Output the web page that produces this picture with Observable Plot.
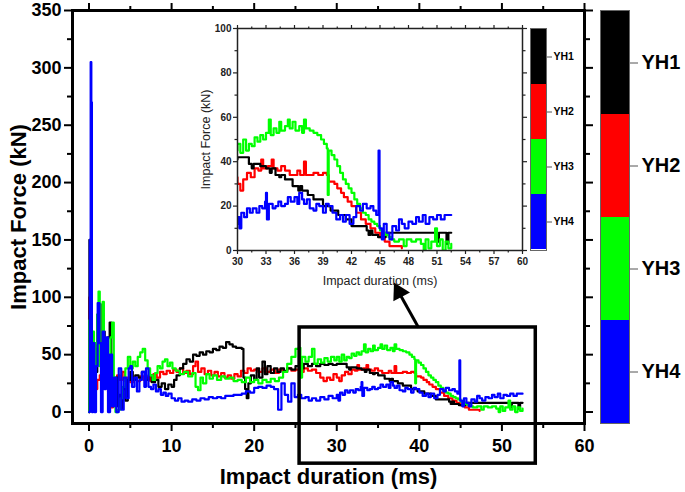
<!DOCTYPE html>
<html>
<head>
<meta charset="utf-8">
<script src="https://cdn.jsdelivr.net/npm/d3@7"></script>
<script src="https://cdn.jsdelivr.net/npm/@observablehq/plot@0.6"></script>
<style>
  body { margin: 0; background: #fff; }
  #chart { position: relative; width: 685px; height: 492px; }
  #chart svg { position: absolute; }
</style>
</head>
<body>
<div id="chart"></div>
<script>
const FONT = '"Liberation Sans", Arial, sans-serif';

const series = ["YH1", "YH2", "YH3", "YH4"];
const colors = ["#000000", "#ff0000", "#00ff00", "#0000ff"];

// [time (ms), force (kN)]
const yh1 = [[0,0],[0.05,150],[0.15,120],[0.25,60],[0.4,20],[0.6,55],[0.8,35],[1,85],[1.2,94],[1.4,60],[1.5,45],[1.7,70],[1.9,50],[2.1,30],[2.3,65],[2.5,78],[2.7,45],[2.9,25],[3.1,10],[3.3,30],[3.5,5],[3.7,15],[3.9,3],[4.1,20],[4.4,10],[4.7,28],[5,35],[5.3,28],[5.6,32],[6,30],[6.4,35],[6.8,28],[7.2,32],[7.6,26],[8,28],[8.4,22],[8.8,25],[9.2,20],[9.6,24],[10,22],[10.3,28],[10.6,32],[11,38],[11.4,42],[11.8,46],[12.2,44],[12.6,50],[13,49],[13.4,52],[13.8,50],[14.2,53],[14.6,52],[15,55],[15.4,54],[15.8,57],[16.2,56],[16.6,61],[17,59],[17.4,57],[17.8,56],[18.2,56],[18.5,55],[18.7,30],[18.9,20],[19.1,12],[19.3,25],[19.6,32],[20,28],[20.3,38],[20.6,30],[21,44],[21.3,33],[21.6,40],[22,34],[22.4,38],[22.8,35],[23.2,38],[23.6,36],[24,38],[24.5,37],[25,40],[25.5,38],[26,42],[26.5,40],[27,42],[27.5,40],[28,42],[28.5,41],[29,42],[29.5,41],[30,42],[31.2,39],[31.5,37],[31.7,39],[32.4,38],[33,37],[33.4,35],[33.6,37],[34,34],[34.4,33],[34.6,34],[35,32],[35.8,29],[36.4,27],[36.6,29],[36.8,27],[37.4,25],[38,23],[39,20],[39.8,18],[40.6,16],[41.4,14],[42,11],[43.6,9],[43.8,7],[44,9],[44.2,7],[44.8,6],[45.6,8],[50.8,8],[51,4],[51.2,8],[51.8,8],[52,3],[52.2,8],[52.5,8]];

const yh2 = [[0,0],[0.05,100],[0.15,60],[0.3,25],[0.5,40],[0.7,20],[1,28],[1.3,32],[1.6,26],[2,30],[2.3,18],[2.5,8],[2.7,4],[2.9,6],[3.1,25],[3.4,32],[3.7,28],[4,35],[4.3,27],[4.6,30],[5,26],[5.4,30],[5.8,27],[6.2,31],[6.6,28],[7,30],[7.4,27],[7.8,33],[8.2,30],[8.6,35],[9,33],[9.4,36],[9.8,34],[10.2,37],[10.6,35],[11,38],[11.4,34],[11.8,36],[12.2,33],[12.6,40],[12.9,44],[13.2,35],[13.6,38],[14,33],[14.4,36],[14.8,32],[15.2,35],[15.6,31],[16,34],[16.4,30],[16.8,32],[17.2,29],[17.6,33],[18,31],[18.4,36],[18.8,34],[19.2,38],[19.6,36],[20,37],[20.5,35],[21,38],[21.5,35],[22,37],[22.5,34],[23,37],[23.5,35],[24,38],[24.5,36],[25,37],[25.5,35],[26,38],[26.5,36],[27,37],[27.5,34],[28,30],[28.4,27],[28.8,30],[29.2,28],[29.6,33],[30,30],[30.3,27],[30.6,32],[31,35],[31.4,33],[31.8,37],[32.2,36],[32.5,41],[32.7,37],[33.2,38],[33.6,41],[33.8,37],[34.2,36],[34.6,38],[35,36],[35.5,34],[36.3,36],[36.6,34],[37,40],[37.2,34],[38,35],[38.5,34],[39,35],[39.4,34],[39.6,31],[40.2,30],[40.5,28],[40.9,26],[41.2,24],[41.6,22],[42,20],[42.5,17],[43,14],[43.5,12],[44,10],[44.5,8],[45,6],[45.5,4],[46,2],[47.3,1]];

const yh3 = [[0,0],[0.05,80],[0.2,40],[0.4,70],[0.6,30],[0.8,60],[1,85],[1.15,105],[1.3,40],[1.5,20],[1.65,96],[1.8,60],[2,30],[2.2,50],[2.4,20],[2.6,65],[2.8,78],[3,30],[3.2,0],[3.5,2],[3.8,12],[4.1,22],[4.4,38],[4.7,48],[5,38],[5.3,44],[5.6,40],[5.9,48],[6.2,52],[6.5,55],[6.8,45],[7.1,38],[7.4,32],[7.7,28],[8,34],[8.3,40],[8.6,38],[8.9,44],[9.2,46],[9.5,40],[9.8,43],[10.1,38],[10.5,36],[11,33],[11.5,35],[12,31],[12.5,34],[12.9,22],[13.2,19],[13.5,30],[13.8,25],[14.2,33],[14.6,29],[15,32],[15.5,28],[16,31],[16.5,29],[17,30],[17.5,27],[18,28],[18.5,26],[19,30],[19.5,26],[20,28],[20.5,25],[21,28],[21.5,26],[22,29],[22.5,27],[23,30],[23.5,35],[24,42],[24.5,48],[25,55],[25.4,56],[25.6,30],[25.8,48],[26.2,44],[26.6,48],[27,55],[27.3,42],[27.7,46],[28.1,43],[28.5,47],[28.9,44],[29.3,48],[29.7,45],[30,48],[30.3,44],[30.6,50],[30.9,45],[31.2,48],[31.5,47],[31.8,51],[32.1,49],[32.4,52],[32.7,50],[33,53],[33.3,59],[33.5,52],[33.8,55],[34.1,53],[34.4,58],[34.6,54],[35,56],[35.3,59],[35.5,55],[35.8,58],[36.1,54],[36.5,56],[36.8,53],[37,59],[37.2,55],[37.6,54],[38,53],[38.4,52],[38.8,50],[39.1,48],[39.4,46],[39.5,25],[39.6,45],[39.9,43],[40.2,41],[40.5,38],[40.8,35],[41.1,32],[41.4,30],[41.7,28],[42,26],[42.3,23],[42.6,21],[42.9,19],[43.2,17],[43.5,16],[43.8,14],[44.1,13],[44.4,12],[44.7,11],[45,9],[45.3,8],[45.6,7],[45.9,6],[46.2,5],[46.5,4],[47,5],[47.5,2],[47.8,5],[48.3,4],[48.8,5],[49.3,3],[49.6,0],[49.8,5],[50.1,1],[50.4,4],[50.8,10],[51,2],[51.3,5],[51.6,0],[51.9,4],[52.2,1],[52.5,3]];

const yh4 = [[0,0],[0.1,150],[0.2,305],[0.28,270],[0.35,0],[0.5,60],[0.65,0],[0.85,40],[1.05,95],[1.25,60],[1.45,0],[1.65,70],[1.85,20],[2.05,65],[2.3,0],[2.55,50],[2.8,5],[3.05,30],[3.3,0],[3.6,38],[3.9,2],[4.2,30],[4.5,12],[4.8,38],[5,40],[5.2,22],[5.5,30],[5.8,18],[6.1,28],[6.4,35],[6.7,22],[6.9,38],[7.2,22],[7.5,20],[7.8,24],[8.1,18],[8.4,20],[8.7,15],[9,17],[9.3,14],[9.6,16],[10,12],[10.4,10],[10.8,12],[11.2,9],[11.6,10],[12,9],[12.5,11],[13,10],[13.5,12],[14,11],[14.5,13],[15,12],[15.5,13],[16,12],[16.5,14],[17,14],[17.5,15],[18,15],[18.5,16],[19,18],[19.5,17],[20,21],[20.5,22],[21,21],[21.5,23],[22,22],[22.4,20],[22.9,2],[23.3,25],[23.7,15],[24.1,9],[24.5,25],[24.9,13],[25.3,15],[25.7,12],[26.2,13],[26.6,10],[27,12],[27.5,10],[28,13],[28.5,11],[29,14],[29.5,12],[30,15],[30.2,10],[30.4,17],[30.7,15],[31,19],[31.3,17],[31.6,19],[32,17],[32.3,20],[32.6,19],[32.9,22],[33,26],[33.1,14],[33.3,21],[33.7,19],[34,20],[34.3,22],[34.6,20],[35,21],[35.3,24],[35.6,22],[36,24],[36.3,21],[36.5,26],[36.8,23],[37,21],[37.3,23],[37.6,19],[38,18],[38.3,21],[38.6,20],[39,17],[39.3,21],[39.6,20],[40,17],[40.4,14],[40.8,16],[41.1,13],[41.4,16],[41.8,12],[42.2,15],[42.5,20],[42.9,18],[43.2,21],[43.6,19],[44,20],[44.3,18],[44.6,16],[44.85,45],[44.95,10],[45.2,5],[45.4,12],[45.7,8],[46,5],[46.3,11],[46.7,9],[47,14],[47.3,12],[47.6,10],[48,13],[48.4,12],[48.8,15],[49.1,13],[49.5,16],[49.8,12],[50.2,15],[50.6,14],[51,16],[51.4,14],[51.8,16],[52.5,16]];

const seriesData = [yh1, yh2, yh3, yh4];
const drawOrder = [1, 0, 2, 3];

// ticks
const xMajor = [0, 10, 20, 30, 40, 50, 60];
const xMinor = [5, 15, 25, 35, 45, 55];
const yMajor = [0, 50, 100, 150, 200, 250, 300, 350];
const yMinor = [25, 75, 125, 175, 225, 275, 325];
const insetXMajor = [30, 33, 36, 39, 42, 45, 48, 51, 54, 57, 60];
const insetXMinor = [31.5, 34.5, 37.5, 40.5, 43.5, 46.5, 49.5, 52.5, 55.5, 58.5];
const insetYMajor = [0, 20, 40, 60, 80, 100];
const insetYMinor = [10, 30, 50, 70, 90];

// zoom box and arrow, in data units of the main chart
const zoomBox = [{x1: 25.5, x2: 54.1, y1: -45, y2: 73.7}];
const arrowLine = [{x1: 39.9, y1: 73.7, x2: 37.7, y2: 102}];
const arrowHead = [{x: 37.55, y: 104.5}];

const noLabel = () => "";

function axes(o) {
  return [
    Plot.axisX({ticks: o.xMaj, tickSize: o.tl, tickPadding: o.tp, fontSize: o.fs, strokeWidth: o.sw, label: null}),
    Plot.axisX({ticks: o.xMin, tickSize: o.ts, tickFormat: noLabel, strokeWidth: o.sw, label: null}),
    Plot.axisX({anchor: "top", ticks: o.xMaj, tickSize: o.tl, tickFormat: noLabel, strokeWidth: o.sw, label: null}),
    Plot.axisX({anchor: "top", ticks: o.xMin, tickSize: o.ts, tickFormat: noLabel, strokeWidth: o.sw, label: null}),
    Plot.axisY({ticks: o.yMaj, tickSize: o.tl, tickPadding: o.tp2, fontSize: o.fs, strokeWidth: o.sw, label: null}),
    Plot.axisY({ticks: o.yMin, tickSize: o.ts, tickFormat: noLabel, strokeWidth: o.sw, label: null}),
    Plot.axisY({anchor: "right", ticks: o.yMaj, tickSize: o.tl, tickFormat: noLabel, strokeWidth: o.sw, label: null}),
    Plot.axisY({anchor: "right", ticks: o.yMin, tickSize: o.ts, tickFormat: noLabel, strokeWidth: o.sw, label: null})
  ];
}

const main = Plot.plot({
  width: 685, height: 492,
  marginLeft: 72, marginRight: 101, marginTop: 10, marginBottom: 69,
  x: {domain: [-2, 60]},
  y: {domain: [-10, 350]},
  style: {fontFamily: FONT, fontWeight: "bold", color: "#000", background: "transparent", overflow: "visible"},
  marks: [
    ...drawOrder.map(i => Plot.line(seriesData[i], {x: d => d[0], y: d => d[1], stroke: colors[i], strokeWidth: 2.2, curve: "step-after"})),
    ...axes({xMaj: xMajor, xMin: xMinor, yMaj: yMajor, yMin: yMinor, tl: 8, ts: 5, tp: 8, tp2: 3, fs: 18, sw: 2}),
    Plot.frame({strokeWidth: 3}),
    Plot.text(["Impact duration (ms)"], {text: d => d, frameAnchor: "bottom", textAnchor: "middle", lineAnchor: "middle", dy: 53, fontSize: 22, fontWeight: "bold"}),
    Plot.text(["Impact Force (kN)"], {text: d => d, frameAnchor: "left", textAnchor: "middle", lineAnchor: "middle", rotate: -90, dx: -54, fontSize: 22, fontWeight: "bold"}),
    Plot.rect(zoomBox, {x1: "x1", x2: "x2", y1: "y1", y2: "y2", fill: "none", stroke: "#000", strokeWidth: 3.5}),
    Plot.link(arrowLine, {x1: "x1", y1: "y1", x2: "x2", y2: "y2", stroke: "#000", strokeWidth: 3}),
    Plot.dot(arrowHead, {x: "x", y: "y", symbol: "triangle", r: 7, fill: "#000", rotate: -28})
  ]
});
main.style.left = "0px";
main.style.top = "0px";

const inset = Plot.plot({
  width: 330, height: 270,
  marginLeft: 42, marginRight: 3, marginTop: 8, marginBottom: 40,
  x: {domain: [30, 60]},
  y: {domain: [0, 100]},
  style: {fontFamily: FONT, fontWeight: "bold", color: "#222", background: "transparent", overflow: "visible"},
  marks: [
    ...drawOrder.map(i => Plot.line(seriesData[i].filter(d => d[0] >= 29.5), {x: d => d[0], y: d => d[1], stroke: colors[i], strokeWidth: 2.2, curve: "step-after", clip: true})),
    ...axes({xMaj: insetXMajor, xMin: insetXMinor, yMaj: insetYMajor, yMin: insetYMinor, tl: 4, ts: 2.5, tp: 3, tp2: 2, fs: 10, sw: 1.2}),
    Plot.frame({strokeWidth: 1.5}),
    Plot.text(["Impact duration (ms)"], {text: d => d, frameAnchor: "bottom", textAnchor: "middle", lineAnchor: "middle", dy: 30, fontSize: 12.5, fontWeight: "normal"}),
    Plot.text(["Impact Force (kN)"], {text: d => d, frameAnchor: "left", textAnchor: "middle", lineAnchor: "middle", rotate: -90, dx: -32, fontSize: 12.5, fontWeight: "normal"})
  ]
});
inset.style.left = "195px";
inset.style.top = "20px";

function colorBar(o) {
  return Plot.plot({
    width: o.w, height: o.h,
    marginLeft: 2, marginRight: o.mr, marginTop: 2, marginBottom: 2,
    x: {type: "band", domain: ["bar"], padding: 0, axis: null},
    y: {type: "band", domain: series, padding: 0},
    color: {domain: series, range: colors},
    style: {fontFamily: FONT, fontWeight: "bold", color: "#000", background: "transparent", overflow: "visible"},
    marks: [
      Plot.cell(series, {x: () => "bar", y: d => d, fill: d => d}),
      Plot.frame({stroke: "#666", strokeWidth: 1}),
      Plot.axisY({anchor: "right", tickSize: o.ts, tickPadding: o.tp, fontSize: o.fs, stroke: "#555", label: null})
    ]
  });
}

const legendMain = colorBar({w: 87, h: 417, mr: 56, ts: 8, tp: 4, fs: 20});
legendMain.style.left = "598px";
legendMain.style.top = "8px";

const legendInset = colorBar({w: 60, h: 226, mr: 42, ts: 5, tp: 2, fs: 10.5});
legendInset.style.left = "528px";
legendInset.style.top = "26px";

const box = document.getElementById("chart");
box.append(main, inset, legendInset, legendMain);
</script>
</body>
</html>
